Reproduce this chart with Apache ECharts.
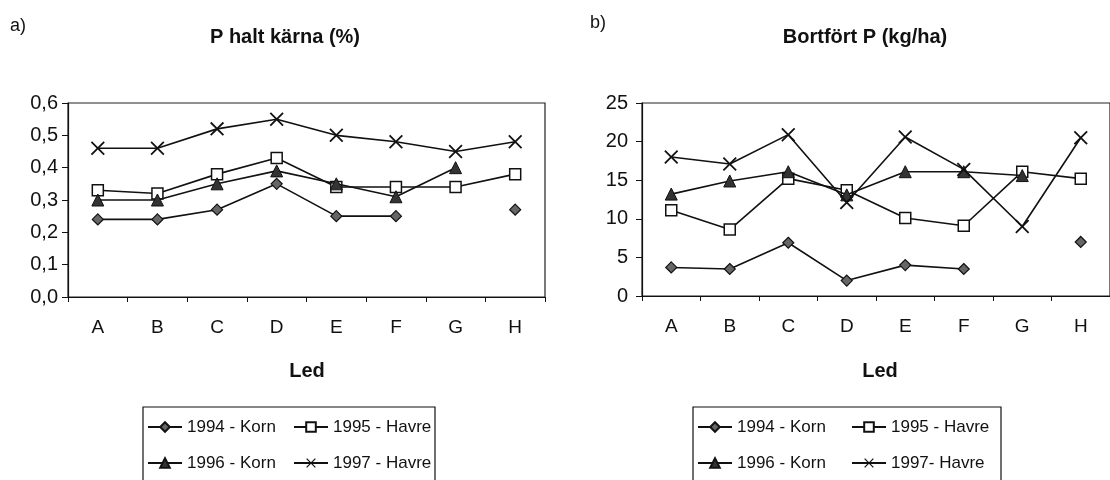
<!DOCTYPE html>
<html>
<head>
<meta charset="utf-8">
<script src="https://cdn.jsdelivr.net/npm/echarts@6/dist/echarts.min.js"></script>
<style>
  html, body { margin: 0; padding: 0; background: #fff; }
  #chart { width: 1110px; height: 480px; }
</style>
</head>
<body>
<div id="chart"></div>
<script>
// Treatments (Led)
const categories = ['A', 'B', 'C', 'D', 'E', 'F', 'G', 'H'];

// a) P content in grain (%)
const pKorn94  = [0.24, 0.24, 0.27, 0.35, 0.25, 0.25, null, 0.27];
const pHavre95 = [0.33, 0.32, 0.38, 0.43, 0.34, 0.34, 0.34, 0.38];
const pKorn96  = [0.30, 0.30, 0.35, 0.39, 0.35, 0.31, 0.40, null];
const pHavre97 = [0.46, 0.46, 0.52, 0.55, 0.50, 0.48, 0.45, 0.48];

// b) P removed (kg/ha)
const bKorn94  = [3.7, 3.5, 6.9, 2.0, 4.0, 3.5, null, 7.0];
const bHavre95 = [11.1, 8.6, 15.2, 13.7, 10.1, 9.1, 16.1, 15.2];
const bKorn96  = [13.2, 14.9, 16.1, 13.1, 16.1, 16.1, 15.6, null];
const bHavre97 = [18.0, 17.1, 20.9, 12.1, 20.6, 16.4, 9.0, 20.5];

// Series names
const namesA = ['1994 - Korn', '1995 - Havre', '1996 - Korn', '1997 - Havre'];
const namesB = ['1994 - Korn', '1995 - Havre', '1996 - Korn', '1997- Havre'];

const FONT = '"Liberation Sans", Arial, sans-serif';
const INK = '#111';

// Thin diagonal cross marker
const crossPath = 'path://M0,0.9L0.9,0L5,4.1L9.1,0L10,0.9L5.9,5L10,9.1L9.1,10L5,5.9L0.9,10L0,9.1L4.1,5Z';

const markerStyles = [
  { symbol: 'diamond', symbolSize: 11, itemStyle: { color: '#666', borderColor: '#111', borderWidth: 1.2 } },
  { symbol: 'rect', symbolSize: 11, itemStyle: { color: '#fff', borderColor: '#111', borderWidth: 1.5 } },
  { symbol: 'triangle', symbolSize: 12, itemStyle: { color: '#333', borderColor: '#111', borderWidth: 1 } },
  { symbol: crossPath, symbolSize: 14, itemStyle: { color: '#111', borderWidth: 0 } }
];

function makeSeries(name, data, idx, axisIndex, z) {
  const m = markerStyles[idx];
  return {
    name: name,
    type: 'line',
    xAxisIndex: axisIndex,
    yAxisIndex: axisIndex,
    data: data,
    connectNulls: false,
    symbol: m.symbol,
    symbolSize: m.symbolSize,
    showAllSymbol: true,
    itemStyle: m.itemStyle,
    lineStyle: { color: '#111', width: 1.6 },
    emphasis: { disabled: true },
    z: z
  };
}

function xAxis(gridIndex) {
  return {
    type: 'category',
    gridIndex: gridIndex,
    data: categories,
    boundaryGap: true,
    axisLine: { show: true, lineStyle: { color: '#111', width: 1.2 } },
    axisTick: { show: true, inside: false, length: 5, alignWithLabel: false, lineStyle: { color: '#111' } },
    axisLabel: { color: INK, fontFamily: FONT, fontSize: 19, margin: 21 },
    splitLine: { show: false }
  };
}

function yAxis(gridIndex, max, interval, fmt, margin) {
  return {
    type: 'value',
    gridIndex: gridIndex,
    min: 0,
    max: max,
    interval: interval,
    axisLine: { show: true, lineStyle: { color: '#111', width: 1.2 } },
    axisTick: { show: true, inside: false, length: 6, lineStyle: { color: '#111' } },
    axisLabel: { color: INK, fontFamily: FONT, fontSize: 20, margin: margin, formatter: fmt },
    splitLine: { show: false }
  };
}

// Boxed two-column legend; fixed text width keeps the columns aligned
function legend(left, names, textWidth) {
  return {
    left: left,
    top: 407,
    orient: 'horizontal',
    width: 2 * (34 + 5 + textWidth) + 8,
    data: names,
    itemWidth: 34,
    itemHeight: 12,
    itemGap: 6,
    padding: [5, 2, 16, 4],
    borderColor: '#111',
    borderWidth: 1.2,
    selectedMode: false,
    textStyle: { color: INK, fontFamily: FONT, fontSize: 17, width: textWidth, lineHeight: 30, overflow: 'none' }
  };
}

const chart = echarts.init(document.getElementById('chart'), null, { renderer: 'canvas' });

chart.setOption({
  backgroundColor: '#fff',
  animation: false,
  grid: [
    { left: 68, top: 103, width: 477, height: 194, show: true, borderColor: '#222', borderWidth: 1.2, backgroundColor: 'transparent' },
    { left: 642, top: 103, width: 480, height: 193, show: true, borderColor: '#222', borderWidth: 1.2, backgroundColor: 'transparent' }
  ],
  xAxis: [xAxis(0), xAxis(1)],
  yAxis: [
    yAxis(0, 0.6, 0.1, v => v.toFixed(1).replace('.', ','), 10),
    yAxis(1, 25, 5, v => String(v), 14)
  ],
  legend: [legend(143, namesA, 100), legend(693, namesB, 108)],
  graphic: [
    { type: 'text', left: 10, top: 17, style: { text: 'a)', font: '18px ' + FONT, fill: INK } },
    { type: 'text', left: 590, top: 14, style: { text: 'b)', font: '18px ' + FONT, fill: INK } },
    { type: 'text', x: 285, y: 37, style: { text: 'P halt kärna (%)', font: 'bold 20px ' + FONT, fill: INK, align: 'center', verticalAlign: 'middle' } },
    { type: 'text', x: 865, y: 37, style: { text: 'Bortfört P (kg/ha)', font: 'bold 20px ' + FONT, fill: INK, align: 'center', verticalAlign: 'middle' } },
    { type: 'text', x: 307, y: 371, style: { text: 'Led', font: 'bold 20px ' + FONT, fill: INK, align: 'center', verticalAlign: 'middle' } },
    { type: 'text', x: 880, y: 371, style: { text: 'Led', font: 'bold 20px ' + FONT, fill: INK, align: 'center', verticalAlign: 'middle' } }
  ],
  series: [
    makeSeries(namesA[0], pKorn94, 0, 0, 4),
    makeSeries(namesA[1], pHavre95, 1, 0, 5),
    makeSeries(namesA[2], pKorn96, 2, 0, 6),
    makeSeries(namesA[3], pHavre97, 3, 0, 7),
    makeSeries(namesB[0], bKorn94, 0, 1, 4),
    makeSeries(namesB[1], bHavre95, 1, 1, 5),
    makeSeries(namesB[2], bKorn96, 2, 1, 6),
    makeSeries(namesB[3], bHavre97, 3, 1, 7)
  ]
});
</script>
</body>
</html>
